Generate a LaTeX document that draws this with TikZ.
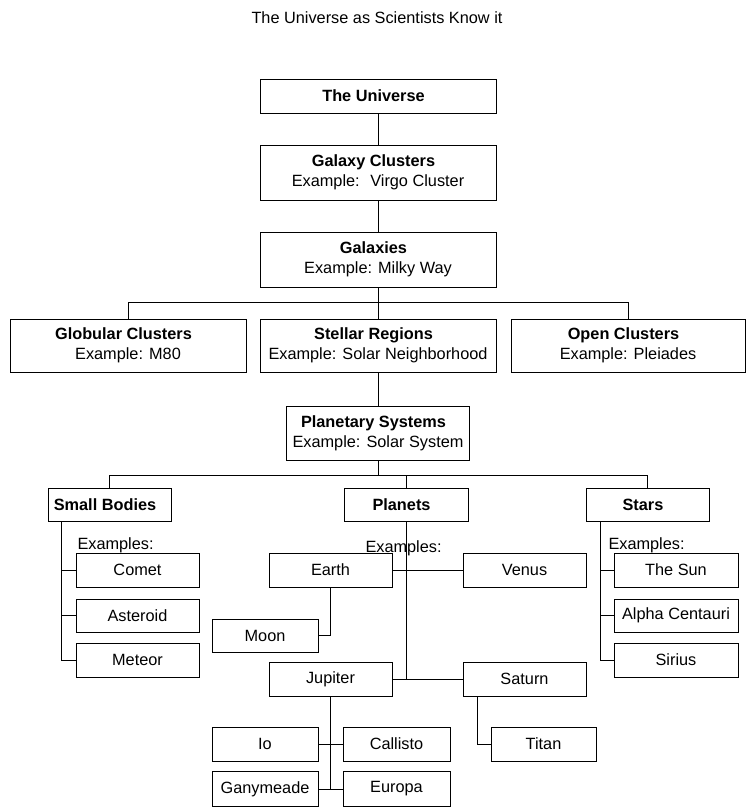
\documentclass[tikz,border=0pt]{standalone}
\usepackage{fontspec}
\setmainfont{Liberation Sans}
\usetikzlibrary{positioning}

\newcommand{\hd}[1]{\textbf{#1}\hspace*{9pt}}

\begin{document}
\begin{tikzpicture}[
        x=1pt, y=1pt,
        node distance=31pt and 13pt,
        every node/.style={font=\fontsize{16.3}{20}\selectfont, align=center, inner sep=0pt},
        every path/.style={line width=1pt},
        box/.style={draw, minimum width=123pt, minimum height=34pt},
        wide/.style={draw, minimum width=236pt, minimum height=55pt},
        narrow/.style={box, minimum width=106pt},
        exlabel/.style={anchor=base west}
    ]

    \useasboundingbox (0,0) rectangle (745,-809);

    % Nodes
    \node (title) at (377,-18) {The Universe as Scientists Know it};

    \node (uni)[box, minimum width=236pt] at (378,-96) {\hd{The Universe}};
    \node (gclus)[wide, below=31pt of uni] {\hd{Galaxy Clusters} \\
        Example:~ Virgo Cluster};
    \node (gal)[wide, below=31pt of gclus] {\hd{Galaxies} \\
        Example: Milky Way};

    \node (stel)[wide, minimum height=53pt, below=31pt of gal] {\hd{Stellar Regions} \\
        Example: Solar Neighborhood};
    \node (glob)[wide, minimum height=53pt, left=13pt of stel] {\hd{Globular Clusters} \\
        Example: M80};
    \node (open)[wide, minimum width=234pt, minimum height=53pt, right=14pt of stel] {\hd{Open Clusters} \\
        Example: Pleiades};
    \node (plan)[wide, minimum width=183pt, minimum height=54pt, below=33pt of stel] {\hd{Planetary Systems} \\
        Example: Solar System};

    \node (small)[box, minimum height=33pt] at (109.5,-504.5) {\hd{Small Bodies}};
    \node (planets)[box, minimum width=124pt, minimum height=33pt] at (406,-504.5) {\hd{Planets}};
    \node (stars)[box, minimum height=33pt] at (647.5,-504.5) {\hd{Stars}};

    \node (smallex)[exlabel] at (77,-549) {Examples:};
    \node (planetsex)[exlabel] at (365,-552) {Examples:};
    \node (starsex)[exlabel] at (608,-549) {Examples:};

    \node (comet)[box] at (137.5,-570) {Comet};
    \node (asteroid)[box, minimum height=33pt, below=11pt of comet] {Asteroid};
    \node (meteor)[box, below=10pt of asteroid] {Meteor};

    \node (sun)[box, minimum width=124pt] at (676,-570) {The Sun};
    \node (alpha)[box, minimum width=124pt, minimum height=33pt, below=11pt of sun] {Alpha Centauri};
    \node (sirius)[box, minimum width=124pt, below=10pt of alpha] {Sirius};

    \node (earth)[box] at (330.5,-570) {Earth};
    \node (venus)[box] at (524.5,-570) {Venus};
    \node (moon)[narrow, minimum height=33pt] at (265,-635.5) {Moon};
    \node (jupiter)[box] at (330.5,-679) {Jupiter};
    \node (saturn)[box] at (524.5,-679) {Saturn};
    \node (io)[narrow] at (265,-744) {Io};
    \node (callisto)[narrow, minimum width=107pt] at (396.5,-744) {Callisto};
    \node (gany)[narrow, minimum height=35pt] at (265,-789) {Ganymeade};
    \node (europa)[narrow, minimum width=107pt, minimum height=35pt] at (396.5,-789) {Europa};
    \node (titan)[narrow, minimum width=105pt] at (543.5,-744) {Titan};

    % Edges
    \draw (uni) -- (gclus);
    \draw (gclus) -- (gal);
    \draw (gal.south) -- (stel.north);
    \draw (gal.south) -- ++(0,-15) -| (glob.north);
    \draw (gal.south) -- ++(0,-15) -| (open.north);
    \draw (stel) -- (plan);

    \draw (plan.south) -- ++(0,-15) -| (small.north);
    \draw (plan.south) -- ++(0,-15) -| (planets.north);
    \draw (plan.south) -- ++(0,-15) -| (stars.north);

    \draw ([xshift=14pt]small.south west) |- (comet.west);
    \draw ([xshift=14pt]small.south west) |- (asteroid.west);
    \draw ([xshift=14pt]small.south west) |- (meteor.west);

    \draw ([xshift=15pt]stars.south west) |- (sun.west);
    \draw ([xshift=15pt]stars.south west) |- (alpha.west);
    \draw ([xshift=15pt]stars.south west) |- (sirius.west);

    \draw (planets.south) -- (planets.south |- jupiter.east);
    \draw (earth.east) -- (venus.west);
    \draw (jupiter.east) -- (saturn.west);
    \draw (earth.south) |- (moon.east);
    \draw (jupiter.south) -- (jupiter.south |- gany.east);
    \draw (io.east) -- (callisto.west);
    \draw (gany.east) -- (europa.west);
    \draw ([xshift=15pt]saturn.south west) |- (titan.west);

\end{tikzpicture}
\end{document}
